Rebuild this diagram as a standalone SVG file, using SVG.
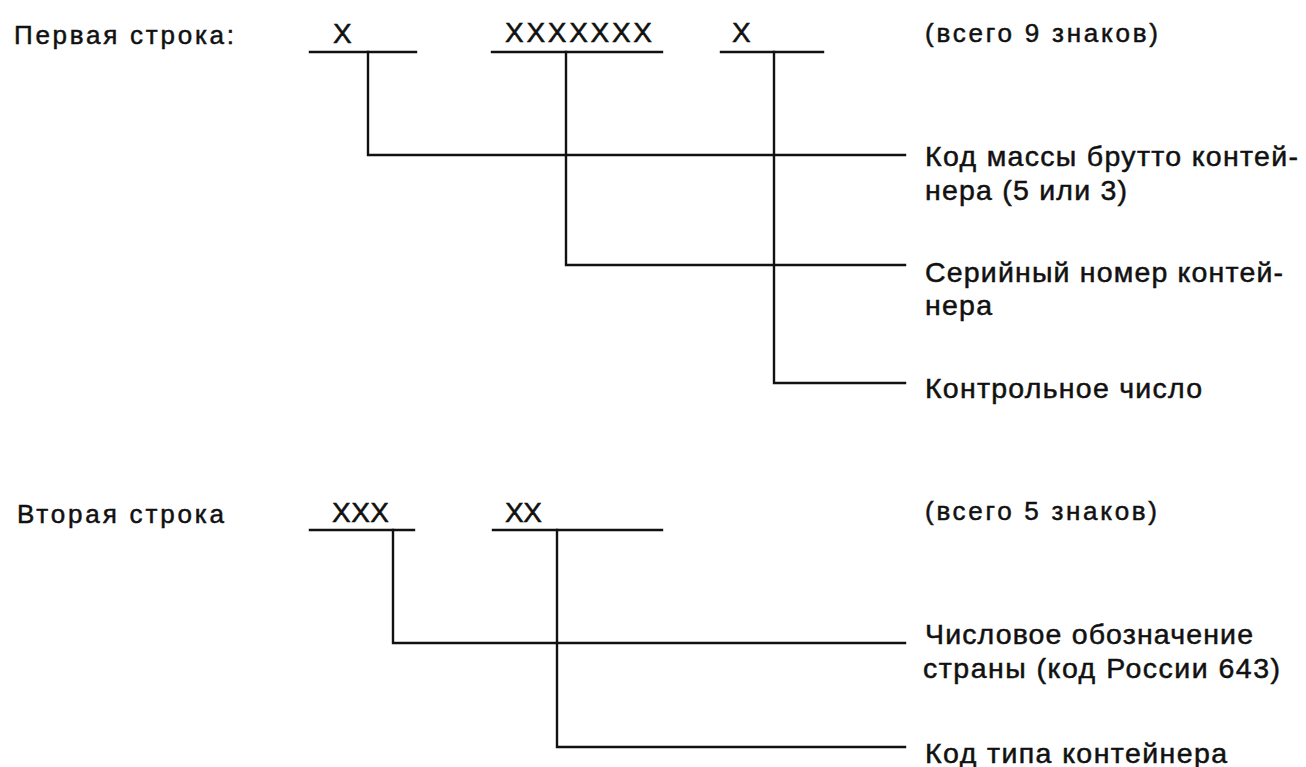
<svg xmlns="http://www.w3.org/2000/svg" width="1306" height="767" viewBox="0 0 1306 767">
<style>
.t{font-family:"Liberation Sans",Arial,sans-serif;fill:#111;stroke:#111;stroke-width:0.5}
.lbl{font-size:26px}
.x{font-size:28px}
.r{font-size:28.5px}
.ln{stroke:#111;stroke-width:2.4;fill:none;stroke-linecap:square}
</style>
<rect width="1306" height="767" fill="#fff"/>
<g id="row1">
<text class="t lbl" x="14" y="44" textLength="220" lengthAdjust="spacing">Первая строка:</text>
<text class="t lbl" x="925" y="42" textLength="233" lengthAdjust="spacing">(всего 9 знаков)</text>
</g>
<g id="x1"><text class="t x" x="333" y="43">X</text><line class="ln" x1="310" y1="52" x2="416" y2="52"/></g>
<g id="x7"><text class="t x" x="505" y="42" textLength="147" lengthAdjust="spacing">XXXXXXX</text><line class="ln" x1="492" y1="52" x2="662" y2="52"/></g>
<g id="x1b"><text class="t x" x="732" y="42">X</text><line class="ln" x1="721" y1="52" x2="823" y2="52"/></g>
<g id="row2">
<text class="t lbl" x="17" y="523" textLength="207" lengthAdjust="spacing">Вторая строка</text>
<text class="t lbl" x="925" y="520" textLength="232" lengthAdjust="spacing">(всего 5 знаков)</text>
</g>
<g id="x3"><text class="t x" x="332" y="522" textLength="57" lengthAdjust="spacing">XXX</text><line class="ln" x1="310" y1="530" x2="414" y2="530"/></g>
<g id="x2"><text class="t x" x="505" y="522" textLength="37" lengthAdjust="spacing">XX</text><line class="ln" x1="493" y1="530" x2="662" y2="530"/></g>
<g id="mass">
<text class="t r" x="925" y="166" textLength="373" lengthAdjust="spacing">Код массы брутто контей-</text>
<text class="t r" x="925" y="200" textLength="202" lengthAdjust="spacing">нера (5 или 3)</text>
</g>
<g id="serial">
<text class="t r" x="925" y="282" textLength="358" lengthAdjust="spacing">Серийный номер контей-</text>
<text class="t r" x="925" y="315" textLength="67" lengthAdjust="spacing">нера</text>
</g>
<g id="check">
<text class="t r" x="925" y="398" textLength="277" lengthAdjust="spacing">Контрольное число</text>
</g>
<g id="country">
<text class="t r" x="925" y="644" textLength="328" lengthAdjust="spacing">Числовое обозначение</text>
<text class="t r" x="923" y="678" textLength="357" lengthAdjust="spacing">страны (код России 643)</text>
</g>
<g id="type">
<text class="t r" x="925" y="763" textLength="302" lengthAdjust="spacing">Код типа контейнера</text>
</g>
<g id="connectors">
<polyline class="ln" points="368,52 368,155 905,155"/>
<polyline class="ln" points="566,52 566,265 905,265"/>
<polyline class="ln" points="774,52 774,383 905,383"/>
<polyline class="ln" points="393,530 393,643 905,643"/>
<polyline class="ln" points="557,530 557,747 905,747"/>
</g>
</svg>
